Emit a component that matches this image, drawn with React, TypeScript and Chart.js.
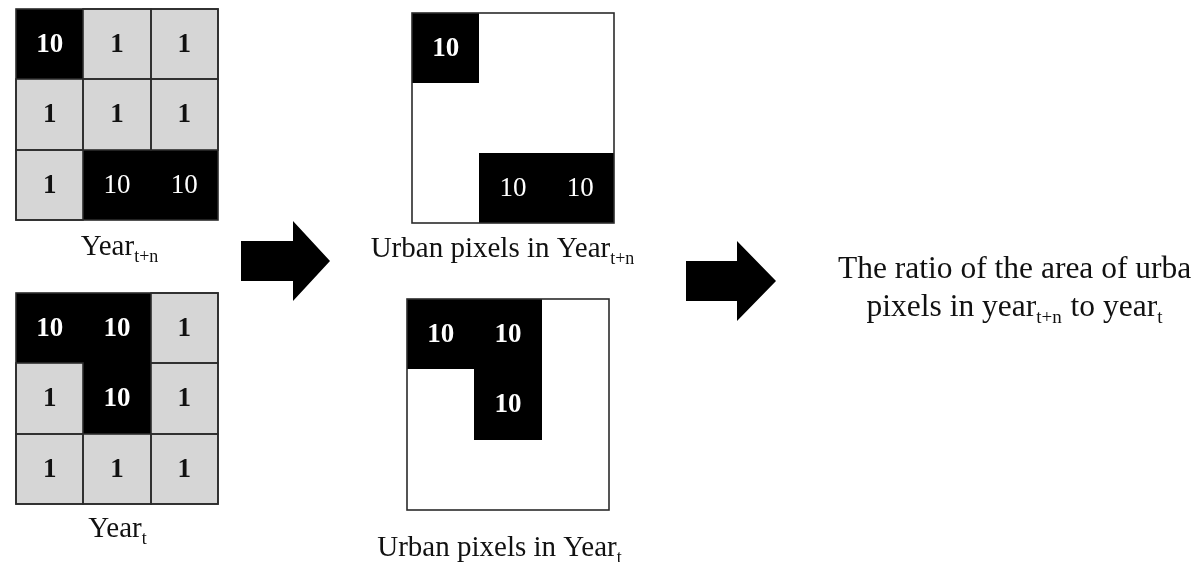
import { useEffect, useRef } from "react";
import { Chart, registerables } from "chart.js";

Chart.register(...registerables);

// ---------- data ----------
const yearTnValues: number[][] = [
  [10, 1, 1],
  [1, 1, 1],
  [1, 10, 10],
];
const yearTValues: number[][] = [
  [10, 10, 1],
  [1, 10, 1],
  [1, 1, 1],
];
const urbanClassValue = 10;
const gridTitles: [string, string][] = [
  ["Year", "t+n"],
  ["Year", "t"],
];
const urbanTitles: [string, string][] = [
  ["Urban pixels in Year", "t+n"],
  ["Urban pixels in Year", "t"],
];
const resultLine1 = "The ratio of the area of urba";
const resultLine2: [string, boolean][] = [
  ["pixels in year", false],
  ["t+n", true],
  [" to year", false],
  ["t", true],
];

// ---------- layout / style ----------
const W = 1202;
const H = 562;
const FONT = '"Liberation Serif", "Times New Roman", serif';
const GREY = "#d6d6d6";
const LINE = "#2b2b2b";

type Panel = { x: number; y: number; w: number; h: number; values: number[][]; urbanOnly: boolean; regular: number[][]; title: [string, string]; tx: number; ty: number };

const panels: Panel[] = [
  { x: 16, y: 9, w: 202, h: 211, values: yearTnValues, urbanOnly: false, regular: [[2, 1], [2, 2]], title: gridTitles[0], tx: 120, ty: 255 },
  { x: 16, y: 293, w: 202, h: 211, values: yearTValues, urbanOnly: false, regular: [], title: gridTitles[1], tx: 118, ty: 537 },
  { x: 412, y: 13, w: 202, h: 210, values: yearTnValues, urbanOnly: true, regular: [[2, 1], [2, 2]], title: urbanTitles[0], tx: 503, ty: 257 },
  { x: 407, y: 299, w: 202, h: 211, values: yearTValues, urbanOnly: true, regular: [], title: urbanTitles[1], tx: 500, ty: 556 },
];

const arrows = [
  { x0: 241, xm: 293, x1: 330, cy: 261, shaft: 20, head: 40 },
  { x0: 686, xm: 737, x1: 776, cy: 281, shaft: 20, head: 40 },
];

const TITLE_SIZE = 29;
const SUB_SIZE = 18;
const RESULT_SIZE = 31.5;

function drawRich(ctx: CanvasRenderingContext2D, parts: [string, boolean][], cx: number, y: number, size: number, sub: number, align: "center" | "left") {
  const fontMain = `${size}px ${FONT}`;
  const fontSub = `${sub}px ${FONT}`;
  let total = 0;
  for (const [t, s] of parts) {
    ctx.font = s ? fontSub : fontMain;
    total += ctx.measureText(t).width + (s ? 1 : 0);
  }
  let x = align === "center" ? cx - total / 2 : cx;
  ctx.textAlign = "left";
  ctx.textBaseline = "alphabetic";
  ctx.fillStyle = "#111";
  for (const [t, s] of parts) {
    ctx.font = s ? fontSub : fontMain;
    ctx.fillText(t, x, s ? y + 7 : y);
    x += ctx.measureText(t).width + (s ? 1 : 0);
  }
}

const diagramPlugin = {
  id: "diagram",
  afterDraw(chart: any) {
    const ctx: CanvasRenderingContext2D = chart.ctx;
    const xs = chart.scales.x;
    const ys = chart.scales.y;
    const px = (v: number) => Math.round(xs.getPixelForValue(v));
    const py = (v: number) => Math.round(ys.getPixelForValue(v));
    ctx.save();
    ctx.fillStyle = "#fff";
    ctx.fillRect(px(0), py(0), px(W) - px(0), py(H) - py(0));

    for (const p of panels) {
      const cw = p.w / 3;
      const ch = p.h / 3;
      const edgeX = (c: number) => px(p.x + c * cw);
      const edgeY = (r: number) => py(p.y + r * ch);
      if (p.urbanOnly) {
        ctx.fillStyle = "#fff";
        ctx.fillRect(edgeX(0), edgeY(0), edgeX(3) - edgeX(0), edgeY(3) - edgeY(0));
      }
      // fill cells
      p.values.forEach((row, r) =>
        row.forEach((v, c) => {
          const urban = v === urbanClassValue;
          if (p.urbanOnly && !urban) return;
          ctx.fillStyle = urban ? "#000" : GREY;
          ctx.fillRect(edgeX(c), edgeY(r), edgeX(c + 1) - edgeX(c), edgeY(r + 1) - edgeY(r));
        })
      );
      // cell borders for grey cells
      ctx.strokeStyle = LINE;
      ctx.lineWidth = 1.6;
      if (!p.urbanOnly) {
        p.values.forEach((row, r) =>
          row.forEach((v, c) => {
            if (v === urbanClassValue) return;
            ctx.strokeRect(edgeX(c), edgeY(r), edgeX(c + 1) - edgeX(c), edgeY(r + 1) - edgeY(r));
          })
        );
      }
      ctx.strokeRect(edgeX(0), edgeY(0), edgeX(3) - edgeX(0), edgeY(3) - edgeY(0));
      // numbers
      ctx.textAlign = "center";
      ctx.textBaseline = "middle";
      p.values.forEach((row, r) =>
        row.forEach((v, c) => {
          const urban = v === urbanClassValue;
          if (p.urbanOnly && !urban) return;
          const regular = p.regular.some(([rr, cc]) => rr === r && cc === c);
          ctx.font = `${regular ? "" : "bold "}27px ${FONT}`;
          ctx.fillStyle = urban ? "#fff" : "#111";
          ctx.fillText(String(v), xs.getPixelForValue(p.x + (c + 0.5) * cw), ys.getPixelForValue(p.y + (r + 0.5) * ch) + 1);
        })
      );
      // title
      drawRich(ctx, [[p.title[0], false], [p.title[1], true]], px(p.tx), py(p.ty), TITLE_SIZE, SUB_SIZE, "center");
    }

    // arrows
    ctx.fillStyle = "#000";
    for (const a of arrows) {
      ctx.beginPath();
      ctx.moveTo(px(a.x0), py(a.cy - a.shaft));
      ctx.lineTo(px(a.xm), py(a.cy - a.shaft));
      ctx.lineTo(px(a.xm), py(a.cy - a.head));
      ctx.lineTo(px(a.x1), py(a.cy));
      ctx.lineTo(px(a.xm), py(a.cy + a.head));
      ctx.lineTo(px(a.xm), py(a.cy + a.shaft));
      ctx.lineTo(px(a.x0), py(a.cy + a.shaft));
      ctx.closePath();
      ctx.fill();
    }

    // result text
    ctx.font = `${RESULT_SIZE}px ${FONT}`;
    ctx.fillStyle = "#111";
    ctx.textAlign = "left";
    ctx.textBaseline = "alphabetic";
    ctx.fillText(resultLine1, px(838), py(278));
    drawRich(ctx, resultLine2, px(1015), py(316), RESULT_SIZE, SUB_SIZE + 1, "center");
    ctx.restore();
  },
};

export default function App() {
  const ref = useRef<HTMLCanvasElement | null>(null);
  useEffect(() => {
    if (!ref.current) return;
    const chart = new Chart(ref.current, {
      type: "scatter",
      data: { datasets: [{ data: [], pointRadius: 0 }] },
      options: {
        animation: false,
        responsive: false,
        maintainAspectRatio: false,
        layout: { padding: 0 },
        plugins: { legend: { display: false }, tooltip: { enabled: false } },
        scales: {
          x: { type: "linear", min: 0, max: W, display: false },
          y: { type: "linear", min: 0, max: H, reverse: true, display: false },
        },
      },
      plugins: [diagramPlugin],
    });
    return () => chart.destroy();
  }, []);
  return (
    <div style={{ position: "fixed", left: 0, top: 0, width: W, height: H, background: "#fff" }}>
      <canvas ref={ref} width={W} height={H} style={{ display: "block", width: W, height: H }} />
    </div>
  );
}
